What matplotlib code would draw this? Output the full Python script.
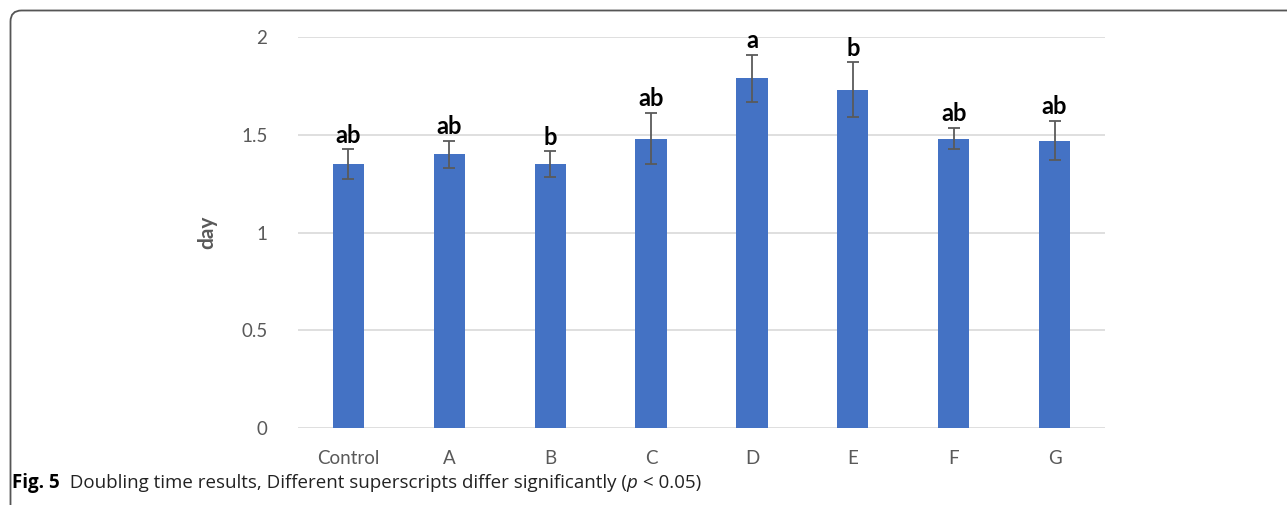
import matplotlib
matplotlib.use("Agg")
import matplotlib.pyplot as plt
from matplotlib.patches import FancyBboxPatch

# data
groups = ["Control", "A", "B", "C", "D", "E", "F", "G"]
means = [1.35, 1.40, 1.35, 1.48, 1.79, 1.73, 1.48, 1.47]
errors = [0.075, 0.07, 0.065, 0.13, 0.12, 0.14, 0.055, 0.10]
letters = ["ab", "ab", "b", "ab", "a", "b", "ab", "ab"]
yticks = [0, 0.5, 1, 1.5, 2]
ytick_labels = ["0", "0.5", "1", "1.5", "2"]

W, H = 1287, 505
fig = plt.figure(figsize=(W / 100, H / 100), dpi=100)
ax = fig.add_axes([298 / W, 1 - 428 / H, (1105 - 298) / W, (428 - 37) / H])

x = list(range(len(groups)))
ax.bar(x, means, width=0.31, color="#4472C4", zorder=2)
ax.errorbar(x, means, yerr=errors, fmt="none", ecolor="#5a5a5a",
            elinewidth=1.3, capsize=4, capthick=1.3, zorder=3)

for xi, m, e, lab in zip(x, means, errors, letters):
    ax.annotate(lab, (xi, m + e), xytext=(0, 2), textcoords="offset points",
                ha="center", va="bottom", fontsize=17, fontweight="bold",
                family="Lato", color="black")

ax.set_xlim(-0.5, len(groups) - 0.5)
ax.set_ylim(0, 2)
ax.set_yticks(yticks)
ax.set_yticklabels(ytick_labels)
ax.set_xticks(x)
ax.set_xticklabels(groups)
ax.grid(axis="y", color="#d9d9d9", linewidth=1.2, zorder=0)
ax.set_axisbelow(True)
for s in ["top", "right", "left", "bottom"]:
    ax.spines[s].set_visible(False)
ax.tick_params(length=0, labelsize=13.5, labelcolor="#595959")
ax.tick_params(axis="y", pad=22)
ax.tick_params(axis="x", pad=16)
for t in ax.get_xticklabels() + ax.get_yticklabels():
    t.set_family("Lato")
ax.set_ylabel("day", fontsize=15, fontweight="bold", color="#595959",
              family="Lato")
ax.yaxis.set_label_coords(-0.1, 0.5)

# page frame with rounded top-left corner
frame = FancyBboxPatch((10.5, -40), W + 60, H + 40 - 10.5,
                       boxstyle="round,pad=0,rounding_size=11",
                       transform=None, fill=False, edgecolor="#555555",
                       linewidth=1.3, clip_on=False)
fig.patches.append(frame)

# caption
fig.canvas.draw()
r = fig.canvas.get_renderer()
cy = 1 - 483 / H
t1 = fig.text(12 / W, cy, "Fig. 5", fontsize=13.5, fontweight="bold",
              family="Open Sans", va="center")
parts = [("  Doubling time results, Different superscripts differ significantly (", "normal"),
         ("p", "italic"), (" < 0.05)", "normal")]
prev = t1
for s, st in parts:
    bb = prev.get_window_extent(r)
    prev = fig.text(bb.x1 / W, cy, s, fontsize=13.5, style=st,
                    family="Open Sans", va="center", color="#222222")
    fig.canvas.draw()

fig.savefig("out.png", dpi=100)
